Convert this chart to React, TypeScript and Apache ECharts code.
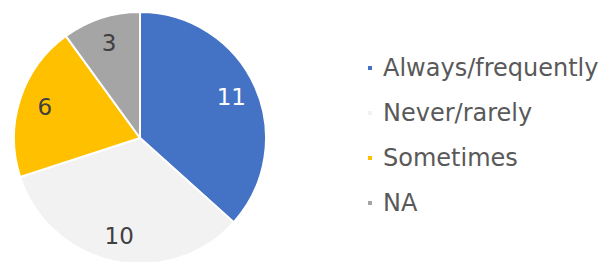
import React, { useEffect, useRef } from "react";
import * as echarts from "echarts";

const categories = ["Always/frequently", "Never/rarely", "Sometimes", "NA"];
const values = [11, 10, 6, 3];
const colors = ["#4472C4", "#F2F2F2", "#FFC000", "#A5A5A5"];
const labelColors = ["#FFFFFF", "#404040", "#404040", "#404040"];

export default function App() {
  const ref = useRef<HTMLDivElement>(null);
  useEffect(() => {
    const chart = echarts.init(ref.current!, null, { renderer: "svg" });
    const font = "'DejaVu Sans', Verdana, sans-serif";
    chart.setOption({
      animation: false,
      backgroundColor: "#FFFFFF",
      legend: {
        orient: "vertical",
        left: 361,
        top: 49,
        itemWidth: 6,
        itemHeight: 6,
        itemGap: 17,
        icon: "rect",
        data: categories.map((c, i) => ({ name: c, itemStyle: { color: colors[i] } })),
        textStyle: {
          fontFamily: font,
          fontSize: 24,
          color: "#595959",
          lineHeight: 28,
          padding: [0, 0, 0, 5],
        },
      },
      series: [
        {
          type: "pie",
          center: [140, 138],
          radius: [0, 126],
          startAngle: 90,
          clockwise: true,
          silent: true,
          itemStyle: { borderColor: "#FFFFFF", borderWidth: 2 },
          label: { show: false },
          labelLine: { show: false },
          data: categories.map((c, i) => ({
            name: c,
            value: values[i],
            itemStyle: { color: colors[i] },
          })),
        },
        {
          type: "pie",
          center: [140, 138],
          radius: [68, 126],
          startAngle: 90,
          clockwise: true,
          silent: true,
          legendHoverLink: false,
          itemStyle: { color: "rgba(0,0,0,0)", borderWidth: 0 },
          labelLine: { show: false },
          data: categories.map((c, i) => ({
            name: c,
            value: values[i],
            label: {
              show: true,
              position: "inside",
              formatter: "{c}",
              fontFamily: font,
              fontSize: 23,
              color: labelColors[i],
            },
          })),
        },
      ],
    });
    return () => chart.dispose();
  }, []);
  return <div ref={ref} style={{ width: 603, height: 262, position: "absolute", left: 0, top: 0 }} />;
}
